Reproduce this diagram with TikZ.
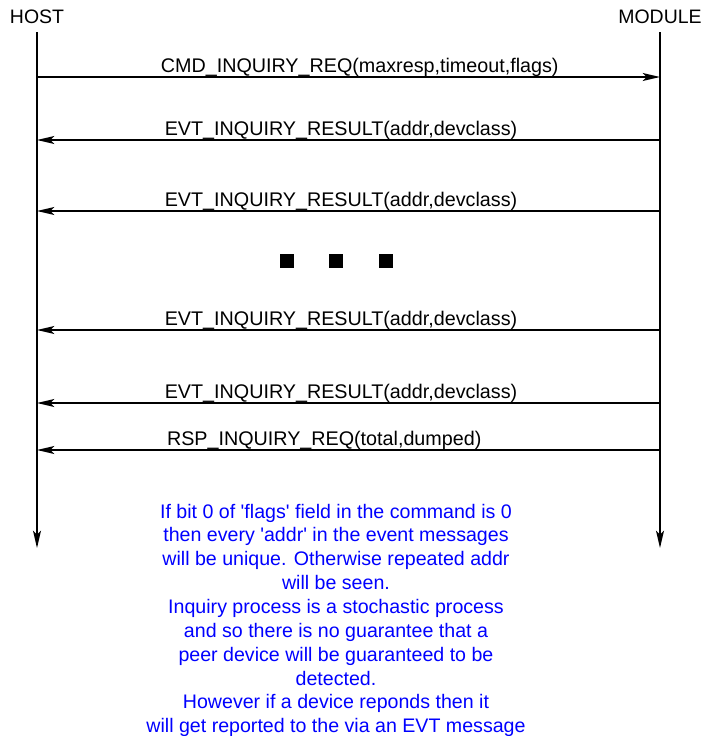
\documentclass[tikz,border=0pt]{standalone}
\usepackage{fontspec}
\setmainfont{Liberation Sans}
\usetikzlibrary{arrows.meta,positioning}
\tikzset{
  >={Stealth[length=13pt,width=6pt,inset=3pt]},
  every picture/.style={line width=1.2pt},
  entity/.style={inner sep=0pt, font=\fontsize{14.6}{16}\selectfont},
  lifeline/.style={->},
  msg/.style={->},
  msglabel/.style={above, inner sep=0pt, font=\fontsize{14.8}{16}\selectfont},
  dotbox/.style={fill, inner sep=0pt, minimum size=10.5pt},
  note/.style={text=blue, align=center, inner sep=0pt, font=\fontsize{14.7}{17.9}\selectfont}
}
\begin{document}
\begin{tikzpicture}[x=0.75pt,y=-0.75pt]
  \useasboundingbox (0,0) rectangle (703,736);
  \def\hx{37}
  \def\mx{660}
  \def\q{\textquotesingle}

  \node[entity] (host) at (\hx,17) {HOST};
  \node[entity] (module) at (\mx,17) {MODULE};
  \coordinate (hend) at (\hx,548);
  \coordinate (mend) at (\mx,548);
  \draw[lifeline] (\hx,32) -- (hend);
  \draw[lifeline] (\mx,32) -- (mend);

  % message rows
  \coordinate (h1) at (\hx,77);  \coordinate (m1) at (\mx,77);
  \coordinate (h2) at (\hx,140); \coordinate (m2) at (\mx,140);
  \coordinate (h3) at (\hx,211); \coordinate (m3) at (\mx,211);
  \coordinate (h4) at (\hx,330); \coordinate (m4) at (\mx,330);
  \coordinate (h5) at (\hx,403); \coordinate (m5) at (\mx,403);
  \coordinate (h6) at (\hx,450); \coordinate (m6) at (\mx,450);

  \draw[msg] (h1) -- node[msglabel, pos=0.518] {CMD\_INQUIRY\_REQ(maxresp,timeout,flags)} (m1);
  \foreach \i in {2,3,4,5}
    \draw[msg] (m\i) -- node[msglabel, pos=0.512] {EVT\_INQUIRY\_RESULT(addr,devclass)} (h\i);
  \draw[msg] (m6) -- node[msglabel, pos=0.539] {RSP\_INQUIRY\_REQ(total,dumped)} (h6);

  \foreach \x [count=\k] in {287,336,386}
    \node[dotbox] (dot\k) at (\x,261) {};

  \node[note, anchor=north] (remark) at (336,503) {If bit 0 of \q flags\q{} field in the command is 0\\
    then every \q addr\q{} in the event messages\\
    will be unique. Otherwise repeated addr\\
    will be seen.\\
    Inquiry process is a stochastic process\\
    and so there is no guarantee that a\\
    peer device will be guaranteed to be\\
    detected.\\
    However if a device reponds then it\\
    will get reported to the via an EVT message};
\end{tikzpicture}
\end{document}
